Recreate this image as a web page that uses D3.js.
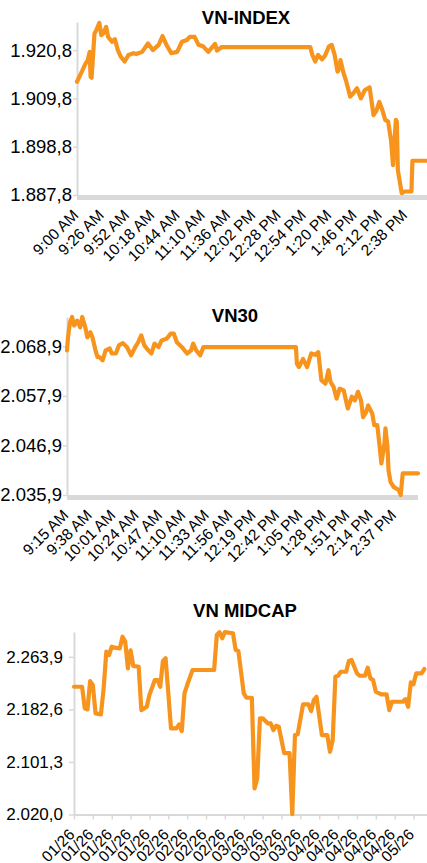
<!DOCTYPE html>
<html>
<head>
<meta charset="utf-8">
<script src="https://cdn.jsdelivr.net/npm/d3@7"></script>
<style>
  html, body { margin: 0; padding: 0; background: #fff; }
  svg { display: block; font-family: "Liberation Sans", Arial, sans-serif; }
</style>
</head>
<body>
<svg id="chart" width="427" height="863"></svg>
<script>
// ---------------- DATA ----------------
// VN-INDEX intraday
const vnIndexTimes = ["09:00","09:05","09:08","09:11","09:13","09:14","09:15","09:18","09:20","09:23","09:25","09:27","09:30","09:32","09:36","09:39","09:42","09:45","09:49","09:53","09:58","10:01","10:07","10:13","10:18","10:24","10:28","10:32","10:37","10:43","10:48","10:53","10:56","11:01","11:05","11:10","11:15","11:22","11:24","11:29","13:00","13:02","13:05","13:08","13:12","13:15","13:19","13:22","13:25","13:28","13:30","13:31","13:34","13:37","13:41","13:44","13:48","13:52","13:56","14:01","14:05","14:08","14:11","14:14","14:17","14:20","14:23","14:25","14:28","14:29","14:30","14:34","14:37","14:44","14:45","15:00"];
const vnIndexValues = [1913.6,1915.9,1917.4,1918.5,1920.4,1914.7,1914.5,1924.6,1925.4,1927.0,1924.2,1924.6,1926.1,1923.8,1922.7,1923.3,1920.8,1919.3,1918.2,1919.7,1920.1,1919.9,1920.4,1922.3,1920.8,1922.0,1924.0,1922.0,1920.1,1920.4,1922.7,1923.1,1923.8,1923.8,1922.0,1921.6,1920.4,1922.2,1920.7,1921.5,1921.5,1919.7,1918.2,1919.7,1918.7,1919.5,1921.6,1922.0,1919.7,1915.9,1916.7,1918.5,1915.7,1913.6,1910.2,1910.9,1912.1,1909.8,1911.7,1912.3,1906.0,1907.0,1909.0,1907.2,1904.9,1904.5,1900.3,1894.6,1904.9,1904.5,1893.5,1888.2,1888.6,1888.6,1895.6,1895.6];
const vnIndexYTicks = [1887.8, 1898.8, 1909.8, 1920.8];
const vnIndexXTicks = ["9:00 AM","9:26 AM","9:52 AM","10:18 AM","10:44 AM","11:10 AM","11:36 AM","12:02 PM","12:28 PM","12:54 PM","1:20 PM","1:46 PM","2:12 PM","2:38 PM"];

// VN30 intraday
const vn30Times = ["09:15","09:16","09:18","09:20","09:22","09:25","09:28","09:30","09:33","09:35","09:38","09:40","09:43","09:45","09:47","09:50","09:53","09:57","09:59","10:03","10:06","10:10","10:14","10:18","10:22","10:25","10:28","10:31","10:35","10:38","10:41","10:45","10:48","10:53","10:57","11:00","11:03","11:08","11:13","11:17","11:19","11:22","11:26","11:29","13:00","13:01","13:03","13:07","13:11","13:15","13:19","13:22","13:25","13:29","13:32","13:34","13:37","13:40","13:43","13:47","13:51","13:55","13:58","14:01","14:04","14:06","14:09","14:11","14:15","14:17","14:20","14:22","14:24","14:27","14:28","14:30","14:31","14:33","14:36","14:41","14:43","14:45","15:00"];
const vn30Values = [2068.0,2070.9,2074.3,2075.4,2073.5,2074.6,2073.1,2075.4,2073.1,2070.9,2072.0,2070.9,2068.0,2066.5,2066.5,2065.8,2068.0,2068.4,2067.3,2067.3,2069.1,2069.6,2068.7,2066.9,2068.7,2069.8,2071.3,2069.1,2068.0,2067.3,2069.5,2068.7,2070.2,2070.6,2071.7,2071.7,2069.8,2068.7,2067.3,2068.0,2069.5,2068.0,2066.9,2068.7,2068.7,2065.0,2064.3,2066.1,2064.3,2067.3,2067.0,2067.6,2061.4,2060.6,2063.6,2061.0,2059.9,2057.3,2059.5,2059.1,2055.1,2057.7,2056.9,2058.8,2056.9,2053.2,2054.3,2055.8,2054.0,2051.4,2051.4,2047.3,2042.9,2047.3,2050.7,2046.6,2041.4,2038.8,2037.7,2037.0,2035.9,2040.7,2040.7];
const vn30YTicks = [2035.9, 2046.9, 2057.9, 2068.9];
const vn30XTicks = ["9:15 AM","9:38 AM","10:01 AM","10:24 AM","10:47 AM","11:10 AM","11:33 AM","11:56 AM","12:19 PM","12:42 PM","1:05 PM","1:28 PM","1:51 PM","2:14 PM","2:37 PM"];

// VN MIDCAP daily
const midcapDates = ["2026-01-01","2026-01-04","2026-01-05","2026-01-06","2026-01-07","2026-01-08","2026-01-09","2026-01-11","2026-01-12","2026-01-13","2026-01-14","2026-01-15","2026-01-16","2026-01-18","2026-01-19","2026-01-20","2026-01-21","2026-01-22","2026-01-23","2026-01-25","2026-01-26","2026-01-28","2026-01-29","2026-01-31","2026-02-01","2026-02-02","2026-02-03","2026-02-04","2026-02-06","2026-02-08","2026-02-09","2026-02-10","2026-02-11","2026-02-12","2026-02-14","2026-02-22","2026-02-23","2026-02-24","2026-02-25","2026-02-26","2026-03-01","2026-03-02","2026-03-03","2026-03-05","2026-03-06","2026-03-08","2026-03-09","2026-03-10","2026-03-11","2026-03-12","2026-03-14","2026-03-15","2026-03-16","2026-03-17","2026-03-18","2026-03-20","2026-03-22","2026-03-23","2026-03-24","2026-03-25","2026-03-27","2026-03-29","2026-03-30","2026-03-31","2026-04-01","2026-04-03","2026-04-05","2026-04-06","2026-04-07","2026-04-08","2026-04-09","2026-04-10","2026-04-12","2026-04-13","2026-04-14","2026-04-16","2026-04-17","2026-04-19","2026-04-20","2026-04-21","2026-04-22","2026-04-23","2026-04-25","2026-04-27","2026-04-28","2026-04-29","2026-05-03","2026-05-04","2026-05-05","2026-05-06","2026-05-07","2026-05-08","2026-05-10","2026-05-11"];
const midcapValues = [2217.6,2217.6,2184.2,2182.5,2226.4,2220.2,2176.4,2174.9,2215.1,2271.8,2266.7,2279.5,2278.0,2277.1,2295.0,2288.0,2246.1,2274.0,2250.0,2248.6,2181.5,2186.6,2205.0,2228.0,2228.0,2217.6,2257.4,2261.6,2153.2,2153.2,2159.4,2149.0,2207.4,2220.2,2243.5,2243.5,2297.7,2302.0,2292.6,2302.0,2300.3,2274.4,2272.9,2207.4,2200.6,2200.6,2060.3,2075.8,2168.7,2168.7,2160.9,2160.9,2150.5,2157.2,2155.7,2115.0,2115.0,2020.5,2142.8,2144.0,2190.3,2190.3,2180.0,2197.0,2202.1,2142.8,2142.8,2117.0,2135.0,2233.1,2234.6,2240.8,2240.8,2257.4,2259.0,2238.4,2234.6,2234.6,2247.0,2230.6,2228.0,2209.9,2205.8,2205.8,2181.5,2194.4,2194.4,2198.5,2186.6,2224.4,2221.3,2238.4,2238.4,2245.0];
const midcapYTicks = [2020.0, 2101.3, 2182.6, 2263.9];
const midcapXTicks = ["2026-01-01","2026-01-08","2026-01-15","2026-01-22","2026-01-29","2026-02-05","2026-02-12","2026-02-19","2026-02-26","2026-03-05","2026-03-12","2026-03-19","2026-03-26","2026-04-02","2026-04-09","2026-04-16","2026-04-23","2026-04-30","2026-05-07"];

// ---------------- DRAW ----------------
const ORANGE = "#F7941D";
const GRID = "#d9d9d9";
const svg = d3.select("#chart");
const vnLocale = d3.formatLocale({decimal: ",", thousands: ".", grouping: [3], currency: ["", ""]});
const fmtVal = vnLocale.format(",.1f");
const parseHM = d3.utcParse("%H:%M");
const parseTick = d3.utcParse("%I:%M %p");
const parseDate = d3.utcParse("%Y-%m-%d");
const FONT = "Liberation Sans, Arial, sans-serif";

function title(text, cx, baseline) {
  svg.append("text").attr("x", cx).attr("y", baseline)
    .attr("text-anchor", "middle").attr("font-weight", "bold")
    .attr("font-size", 18.5).attr("fill", "#000").text(text);
}

function yAxis(y, x0, ticks, tick, gap, fs) {
  const g = svg.append("g").attr("transform", `translate(${x0},0)`)
    .call(d3.axisLeft(y).tickValues(ticks).tickFormat(fmtVal)
      .tickSize(tick).tickSizeOuter(0).tickPadding(gap));
  g.select(".domain").attr("stroke", GRID).attr("stroke-width", 2);
  g.selectAll(".tick line").attr("stroke", GRID).attr("stroke-width", 1.5);
  g.selectAll(".tick text").attr("font-size", fs).attr("fill", "#000").attr("font-family", FONT);
  g.attr("font-family", null).attr("font-size", null);
}

function rotateLabels(g, dx, dy, fs) {
  g.selectAll(".tick text")
    .attr("x", 0).attr("y", 0).attr("dy", null)
    .attr("transform", `translate(${dx},${dy}) rotate(-45)`)
    .attr("text-anchor", "end")
    .attr("font-size", fs).attr("fill", "#000").attr("font-family", FONT);
  g.attr("font-family", null).attr("font-size", null);
}

function intraday(cfg) {
  const x = d3.scaleUtc().domain([parseHM(cfg.start), parseHM("15:00")]).range([cfg.left, cfg.right]);
  const y = d3.scaleLinear().domain(cfg.yDomain).range([cfg.bottom, cfg.top]);
  title(cfg.title, cfg.titleX, cfg.titleY);
  yAxis(y, cfg.left, cfg.yTicks, 4, 1, 18.5);
  svg.append("line").attr("x1", cfg.left).attr("x2", cfg.bandRight)
    .attr("y1", cfg.bottom + 2.5).attr("y2", cfg.bottom + 2.5)
    .attr("stroke", GRID).attr("stroke-width", 5);
  const gx = svg.append("g").attr("transform", `translate(0,${cfg.bottom})`)
    .call(d3.axisBottom(x).tickValues(cfg.xTicks.map(parseTick)).tickSize(0)
      .tickFormat(d3.utcFormat("%-I:%M %p")));
  gx.select(".domain").remove();
  rotateLabels(gx, 2, 21, 15.5);
  const pts = cfg.times.map((t, i) => [parseHM(t), cfg.values[i]]);
  svg.append("path").datum(pts)
    .attr("fill", "none").attr("stroke", ORANGE).attr("stroke-width", 4.2)
    .attr("stroke-linejoin", "round").attr("stroke-linecap", "round")
    .attr("d", d3.line().x(d => x(d[0])).y(d => y(d[1])));
}

intraday({
  title: "VN-INDEX", titleX: 246, titleY: 24,
  start: "09:00", left: 77, right: 427, bandRight: 427, top: 22, bottom: 195,
  yDomain: [1887.8, 1927.2], yTicks: vnIndexYTicks,
  xTicks: vnIndexXTicks, times: vnIndexTimes, values: vnIndexValues
});

intraday({
  title: "VN30", titleX: 235, titleY: 322,
  start: "09:15", left: 67, right: 418, bandRight: 418, top: 317, bottom: 495,
  yDomain: [2035.9, 2075.4], yTicks: vn30YTicks,
  xTicks: vn30XTicks, times: vn30Times, values: vn30Values
});

// MIDCAP
(function () {
  const left = 74, right = 427, top = 632, bottom = 814.5;
  const x = d3.scaleUtc().domain([parseDate("2026-01-01"), parseDate("2026-05-12")]).range([left, right]);
  const y = d3.scaleLinear().domain([2020.0, 2302.3]).range([bottom, top]);
  title("VN MIDCAP", 245, 617);
  yAxis(y, left, midcapYTicks, 5, 6, 17);
  const gx = svg.append("g").attr("transform", `translate(0,${bottom})`)
    .call(d3.axisBottom(x).tickValues(midcapXTicks.map(parseDate)).tickSize(5).tickSizeOuter(0)
      .tickFormat(d3.utcFormat("%m/%y")));
  gx.select(".domain").attr("stroke", GRID).attr("stroke-width", 2);
  gx.selectAll(".tick line").attr("stroke", GRID).attr("stroke-width", 1.5);
  rotateLabels(gx, 1, 21, 15.5);
  const pts = midcapDates.map((d, i) => [parseDate(d), midcapValues[i]]);
  svg.append("path").datum(pts)
    .attr("fill", "none").attr("stroke", ORANGE).attr("stroke-width", 4.2)
    .attr("stroke-linejoin", "round").attr("stroke-linecap", "round")
    .attr("d", d3.line().x(d => x(d[0])).y(d => y(d[1])));
})();
</script>
</body>
</html>
